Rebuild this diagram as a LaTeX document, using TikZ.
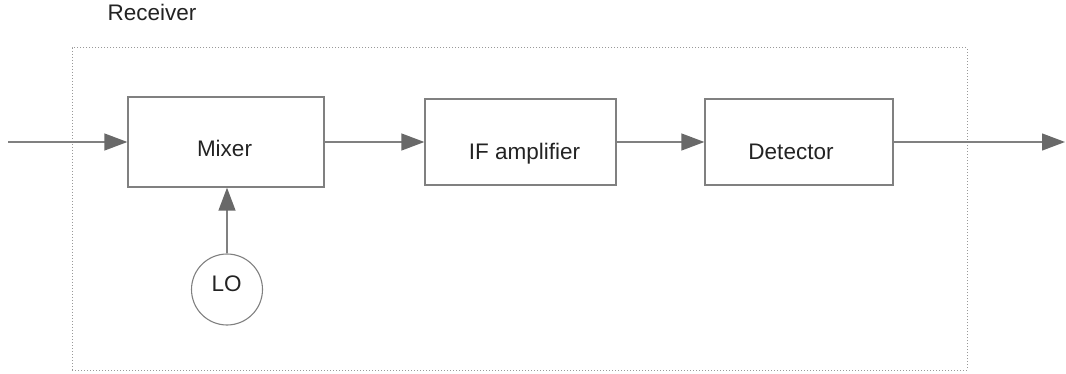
\documentclass[tikz,border=0pt]{standalone}
\usepackage{fontspec}
\setmainfont{Liberation Sans}
\usetikzlibrary{arrows.meta}

\definecolor{edgegray}{RGB}{128,128,128}
\definecolor{tipgray}{RGB}{105,105,105}
\definecolor{textgray}{RGB}{35,35,35}

\begin{document}
\begin{tikzpicture}[x=1pt,y=-1pt,
  block/.style={draw=edgegray, line width=1.3pt, rectangle, inner sep=0pt},
  osc/.style={draw=edgegray, line width=1.1pt, circle, inner sep=0pt, minimum size=71pt},
  caption/.style={anchor=base, inner sep=0pt, text=textgray, font=\fontsize{22.5}{27}\selectfont},
  signal/.style={draw=edgegray, line width=1.3pt,
    -{Triangle[length=23pt, width=17pt, fill=tipgray, color=tipgray]}},
  frame/.style={draw=edgegray!80, line width=1pt, dotted}]

  \useasboundingbox (0,0) rectangle (1066,374);

  % receiver outline
  \node[frame, rectangle, minimum width=895pt, minimum height=322pt, inner sep=0pt]
    (rx) at (519.5,209) {};
  \node[caption] (rxlabel) at (152,20.7) {Receiver};

  % signal chain blocks
  \node[block, minimum width=196pt, minimum height=90pt] (mixer) at (226,142) {};
  \node[block, minimum width=191pt, minimum height=86pt] (ifamp) at (520.5,142) {};
  \node[block, minimum width=188pt, minimum height=86pt] (det) at (799,142) {};
  \node[osc] (lo) at (227,289.5) {};

  \node[caption] (mixertext) at (224.5,157) {Mixer};
  \node[caption] (ifamptext) at (524.5,159.5) {IF amplifier};
  \node[caption] (dettext) at (791,159.5) {Detector};
  \node[caption] (lotext) at (226.7,291.5) {LO};

  % free ends of the input and output lines
  \coordinate (in) at (8,142);
  \coordinate (out) at (1065,142);

  % connectors
  \draw[signal] (in) -- (mixer.west);
  \draw[signal] (mixer.east) -- (ifamp.west);
  \draw[signal] (ifamp.east) -- (det.west);
  \draw[signal] (det.east) -- (out);
  \draw[signal] (lo.north) -- (lo.north |- mixer.south);
\end{tikzpicture}
\end{document}
